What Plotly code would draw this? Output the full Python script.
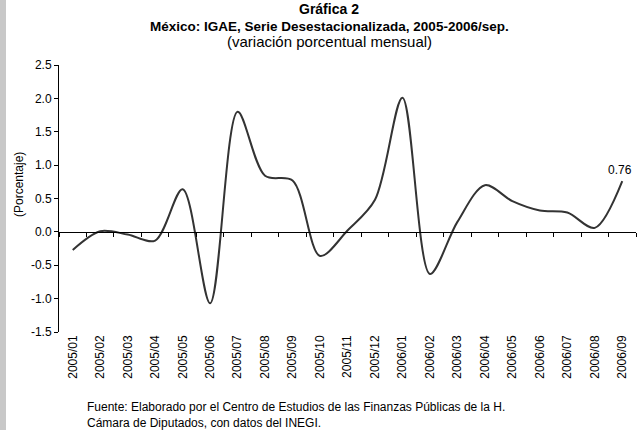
import plotly.graph_objects as go

categories = ["2005/01", "2005/02", "2005/03", "2005/04", "2005/05", "2005/06", "2005/07",
              "2005/08", "2005/09", "2005/10", "2005/11", "2005/12", "2006/01", "2006/02",
              "2006/03", "2006/04", "2006/05", "2006/06", "2006/07", "2006/08", "2006/09"]
values = [-0.27, 0.01, -0.04, -0.13, 0.64, -1.07, 1.80, 0.84, 0.77, -0.36, 0.02, 0.48,
          2.01, -0.63, 0.15, 0.70, 0.46, 0.32, 0.29, 0.06, 0.76]
y_ticks = [-1.5, -1.0, -0.5, 0.0, 0.5, 1.0, 1.5, 2.0, 2.5]

FONT = "Liberation Sans, Arial, sans-serif"
n = len(categories)
ymin, ymax = -1.5, 2.5

fig = go.Figure()
fig.add_trace(go.Scatter(x=categories, y=values, mode="lines",
                         line=dict(color="#333333", width=2, shape="spline", smoothing=0.9),
                         hoverinfo="x+y", showlegend=False, cliponaxis=False))
# helper trace for the zero-crossing axis
fig.add_trace(go.Scatter(x=[-0.5, n - 0.5], y=[None, None], xaxis="x2", mode="lines",
                         showlegend=False, hoverinfo="skip"))

fig.update_layout(
    width=642, height=430,
    margin=dict(l=59, r=6, t=65, b=98),
    paper_bgcolor="white", plot_bgcolor="white",
    font=dict(family=FONT, size=12, color="black"),
    xaxis=dict(type="category", range=[-0.5, n - 0.5], showline=False, ticks="",
               showgrid=False, zeroline=False, tickangle=-90,
               tickfont=dict(size=12, color="black")),
    xaxis2=dict(overlaying="x", anchor="free", position=(0 - ymin) / (ymax - ymin),
                range=[-0.5, n - 0.5], tickmode="array",
                tickvals=[i - 0.5 for i in range(n + 1)],
                showticklabels=False, ticks="outside", ticklen=4, tickcolor="black",
                showline=True, linecolor="black", linewidth=1,
                showgrid=False, zeroline=False),
    yaxis=dict(range=[ymin, ymax], tickmode="array", tickvals=y_ticks,
               ticktext=[f"{v:.1f}" for v in y_ticks],
               showline=True, linecolor="black", linewidth=1,
               ticks="outside", ticklen=4, tickcolor="black",
               showgrid=False, zeroline=False, tickfont=dict(size=12, color="black")),
    shapes=[dict(type="rect", xref="paper", yref="paper", x0=-59 / 577, x1=-53 / 577,
                 y0=-98 / 267, y1=1 + 65 / 267, fillcolor="#c8c8c8",
                 line=dict(width=0), layer="below")],
)

annotations = [
    dict(text="<b>Gráfica 2</b>", x=0.468, y=1, xref="paper", yref="paper",
         yanchor="middle", yshift=56, showarrow=False, font=dict(size=14)),
    dict(text="<b>México: IGAE, Serie Desestacionalizada, 2005-2006/sep.</b>", x=0.468, y=1,
         xref="paper", yref="paper", yanchor="middle", yshift=39, showarrow=False,
         font=dict(size=13.5)),
    dict(text="(variación porcentual mensual)", x=0.468, y=1, xref="paper", yref="paper",
         yanchor="middle", yshift=24, showarrow=False, font=dict(size=15)),
    dict(text="(Porcentaje)", textangle=-90, x=-40 / 577, y=(332 - 185) / 267,
         xref="paper", yref="paper", xanchor="center", yanchor="middle",
         showarrow=False, font=dict(size=12)),
    dict(text=f"{values[-1]:.2f}", x=categories[-1], y=values[-1], xref="x", yref="y",
         xanchor="right", yanchor="middle", xshift=12, yshift=11, showarrow=False,
         font=dict(size=12)),
    dict(text="Fuente: Elaborado por el Centro de Estudios de las Finanzas Públicas de la H.<br>"
              "Cámara de Diputados, con datos del INEGI.",
         x=26 / 577, y=0, xref="paper", yref="paper", xanchor="left", yanchor="top",
         yshift=-66, align="left", showarrow=False, font=dict(size=12)),
]
fig.update_layout(annotations=annotations)

fig.write_html("out.html", config={"displayModeBar": False},
               post_script="document.body.style.margin='0';")
